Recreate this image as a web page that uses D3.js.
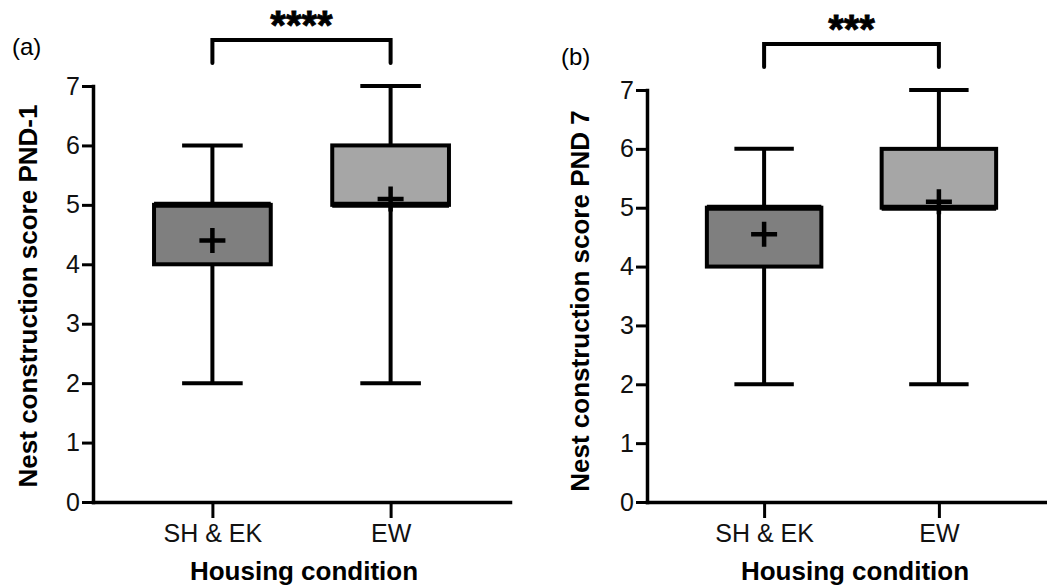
<!DOCTYPE html>
<html>
<head>
<meta charset="utf-8">
<script src="https://cdn.jsdelivr.net/npm/d3@7"></script>
<style>
  body { margin: 0; background: #fff; }
  svg { display: block; font-family: "Liberation Sans", Arial, sans-serif; }
</style>
</head>
<body>
<div id="chart"></div>
<script>
// data
const categories = ["SH & EK", "EW"];
const yTicks = [0, 1, 2, 3, 4, 5, 6, 7];
const panelLabels = ["(a)", "(b)"];
const yTitles = ["Nest construction score PND-1", "Nest construction score PND 7"];
const xTitle = "Housing condition";
const stars = ["****", "***"];

// panel (a) PND-1
const minA = [2, 2];
const q1A = [4, 5];
const medA = [5, 5];
const q3A = [5, 6];
const maxA = [6, 7];
const meanA = [4.4, 5.1];

// panel (b) PND 7
const minB = [2, 2];
const q1B = [4, 5];
const medB = [5, 5];
const q3B = [5, 6];
const maxB = [6, 7];
const meanB = [4.55, 5.1];

const fills = ["#7f7f7f", "#a6a6a6"];

const width = 1047, height = 587;
const svg = d3.select("#chart").append("svg")
    .attr("width", width)
    .attr("height", height);

function buildRows(min, q1, med, q3, max, mean) {
    return categories.map((c, i) => ({
        cat: c, min: min[i], q1: q1[i], med: med[i], q3: q3[i], max: max[i], mean: mean[i], fill: fills[i]
    }));
}

const panels = [
    { rows: buildRows(minA, q1A, medA, q3A, maxA, meanA), xRange: [93, 510], yRange: [502, 86],
      label: panelLabels[0], labelPos: [12, 55], title: yTitles[0], titlePos: [37, 296],
      xTitleX: 304, stars: stars[0], bracketY: 40, starY: 39 },
    { rows: buildRows(minB, q1B, medB, q3B, maxB, meanB), xRange: [647, 1056], yRange: [502, 90],
      label: panelLabels[1], labelPos: [561, 65], title: yTitles[1], titlePos: [589, 301],
      xTitleX: 855, stars: stars[1], bracketY: 44, starY: 43 }
];

panels.forEach(p => drawPanel(p));

function drawPanel(p) {
    const g = svg.append("g");
    const x = d3.scalePoint().domain(categories).range(p.xRange).padding(0.67);
    const y = d3.scaleLinear().domain([0, 7]).range(p.yRange);
    const step = x.step();
    const boxW = step * 0.655;
    const capW = step * 0.34;

    // y axis
    const yAxis = g.append("g")
        .attr("transform", `translate(${p.xRange[0]},0)`)
        .call(d3.axisLeft(y).tickValues(yTicks).tickFormat(d3.format("d"))
            .tickSize(11).tickSizeOuter(0).tickPadding(2));
    // x axis
    const xAxis = g.append("g")
        .attr("transform", `translate(0,${p.yRange[0]})`)
        .call(d3.axisBottom(x).tickSize(16).tickSizeOuter(0).tickPadding(6));

    [yAxis, xAxis].forEach(a => {
        a.select(".domain").attr("stroke", "#000").attr("stroke-width", 3.5).attr("stroke-linecap", "square");
        a.selectAll(".tick line").attr("stroke", "#000").attr("stroke-width", 3);
        a.selectAll(".tick text").attr("fill", "#111").attr("font-size", 25)
            .attr("font-family", "'Liberation Sans', Arial, sans-serif");
    });

    // boxes
    const box = g.selectAll(".box").data(p.rows).join("g").attr("class", "box");
    box.append("line")
        .attr("x1", d => x(d.cat)).attr("x2", d => x(d.cat))
        .attr("y1", d => y(d.max)).attr("y2", d => y(d.min))
        .attr("stroke", "#000").attr("stroke-width", 4);
    box.selectAll(".cap").data(d => [d.min, d.max].map(v => ({ cat: d.cat, v })))
        .join("line").attr("class", "cap")
        .attr("x1", d => x(d.cat) - capW / 2).attr("x2", d => x(d.cat) + capW / 2)
        .attr("y1", d => y(d.v)).attr("y2", d => y(d.v))
        .attr("stroke", "#000").attr("stroke-width", 4);
    box.append("rect")
        .attr("x", d => x(d.cat) - boxW / 2)
        .attr("width", boxW)
        .attr("y", d => y(d.q3))
        .attr("height", d => y(d.q1) - y(d.q3))
        .attr("fill", d => d.fill)
        .attr("stroke", "#000").attr("stroke-width", 4);
    box.append("line")
        .attr("x1", d => x(d.cat) - boxW / 2).attr("x2", d => x(d.cat) + boxW / 2)
        .attr("y1", d => y(d.med)).attr("y2", d => y(d.med))
        .attr("stroke", "#000").attr("stroke-width", 6);
    // mean marker
    box.append("path")
        .attr("d", d => {
            const cx = x(d.cat), cy = y(d.mean);
            return `M${cx - 13},${cy}H${cx + 13}M${cx},${cy - 12.5}V${cy + 12.5}`;
        })
        .attr("stroke", "#000").attr("stroke-width", 4.5).attr("fill", "none");

    // significance bracket
    const bx0 = x(categories[0]), bx1 = x(categories[1]);
    g.append("path")
        .attr("d", `M${bx0},${p.bracketY + 23}V${p.bracketY}H${bx1}V${p.bracketY + 23}`)
        .attr("fill", "none").attr("stroke", "#000").attr("stroke-width", 4)
        .attr("stroke-linecap", "round");
    g.append("text")
        .attr("x", (bx0 + bx1) / 2).attr("y", p.starY)
        .attr("text-anchor", "middle")
        .attr("font-size", 40).attr("font-weight", "bold")
        .attr("stroke", "#000").attr("stroke-width", 0.8)
        .text(p.stars);

    // panel label
    g.append("text")
        .attr("x", p.labelPos[0]).attr("y", p.labelPos[1])
        .attr("font-size", 24)
        .text(p.label);

    // axis titles
    g.append("text")
        .attr("transform", `translate(${p.titlePos[0]},${p.titlePos[1]}) rotate(-90)`)
        .attr("text-anchor", "middle")
        .attr("font-size", 26).attr("font-weight", "bold")
        .text(p.title);
    g.append("text")
        .attr("x", p.xTitleX).attr("y", 580)
        .attr("text-anchor", "middle")
        .attr("font-size", 26).attr("font-weight", "bold")
        .text(xTitle);
}
</script>
</body>
</html>
